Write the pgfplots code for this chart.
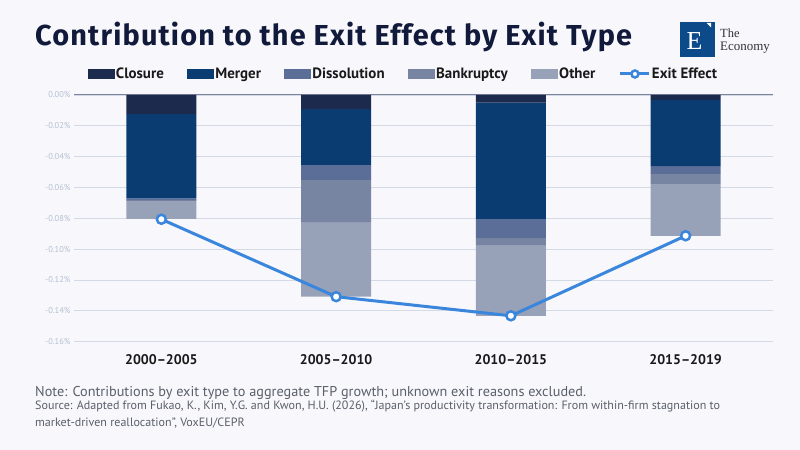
\documentclass[border=0pt]{standalone}
\usepackage{pgfplots}
\pgfplotsset{compat=1.18}
\usepackage{fontspec}
\setmainfont{PT Sans}
\newfontfamily\titlefont[LetterSpace=4]{Fira Sans}
\newfontfamily\seriffont{Liberation Serif}
\definecolor{bg}{RGB}{248,248,252}
\definecolor{cClosure}{HTML}{1C2A4E}
\definecolor{cMerger}{HTML}{0B3C71}
\definecolor{cDiss}{HTML}{5B6E98}
\definecolor{cBank}{HTML}{7885A2}
\definecolor{cOther}{HTML}{97A1B8}
\definecolor{cLine}{HTML}{3A86DC}
\definecolor{cGrid}{HTML}{D3DAE5}
\definecolor{cTick}{HTML}{B4BFD2}
\definecolor{cZero}{HTML}{7C8299}
\definecolor{cTitle}{HTML}{111A3A}
\definecolor{cLogo}{HTML}{0D4A8A}
\definecolor{cNote}{HTML}{5A5F6A}
\begin{document}
\begin{tikzpicture}
\fill[bg] (0bp,0bp) rectangle (800bp,450bp);
% title
\node[anchor=base west,inner sep=0,text=cTitle] at (35bp,404.3bp) {\titlefont\bfseries\fontsize{29}{32}\selectfont Contribution to the Exit Effect by Exit Type};
% logo
\fill[cLogo] (680bp,392.7bp) rectangle (715bp,428bp);
\fill[white] (706.5bp,427bp) -- (711bp,427bp) -- (711bp,422.5bp) -- cycle;
\node[text=white,inner sep=0,anchor=base] at (694.5bp,400.3bp) {\seriffont\fontsize{26}{26}\selectfont E};
\node[anchor=base west,inner sep=0,text=black!80] at (720bp,412bp) {\seriffont\fontsize{12.5}{12.5}\selectfont The};
\node[anchor=base west,inner sep=0,text=black!80] at (720bp,399.7bp) {\seriffont\fontsize{13}{13}\selectfont Economy};

\begin{axis}[
  at={(74bp,108.3bp)}, anchor=south west, scale only axis,
  width=699bp, height=246.7bp,
  xmin=-0.5, xmax=3.5, ymin=-0.16, ymax=0,
  ybar stacked, bar width=70bp,
  axis line style={draw=none},
  major tick style={draw=none},
  ymajorgrids, grid style={cGrid, line width=0.8bp},
  ytick={-0.16,-0.14,-0.12,-0.10,-0.08,-0.06,-0.04,-0.02,0},
  yticklabel={\pgfmathprintnumber[fixed,fixed zerofill,precision=2]{\tick}\%},
  /pgf/number format/assume math mode=true,
  yticklabel style={font=\fontsize{8.5}{9}\selectfont, text=cTick},
  xtick={0,1,2,3},
  xticklabels={2000–2005,2005–2010,2010–2015,2015–2019},
  xticklabel style={font=\bfseries\fontsize{14}{16}\selectfont, text=black!90, anchor=base, yshift=-22.6bp},
  legend columns=-1,
  legend style={at={(axis description cs:0.4707,1)}, anchor=center, yshift=21bp,
     draw=none, fill=none, font=\bfseries\fontsize{15}{17}\selectfont, text=black!90,
     nodes={inner xsep=1bp},
     /tikz/every odd column/.append style={column sep=0bp},
     /tikz/every even column/.append style={column sep=22.5bp}},
  legend image code/.code={\fill[#1] (0bp,-4.75bp) rectangle (27bp,4.75bp);},
]
\addplot[fill=cClosure, draw=none] coordinates {(0,-0.0123) (1,-0.0091) (2,-0.0050) (3,-0.0032)};
\addplot[fill=cMerger, draw=none] coordinates {(0,-0.0547) (1,-0.0363) (2,-0.0754) (3,-0.0429)};
\addplot[fill=cDiss, draw=none] coordinates {(0,-0.0012) (1,-0.0097) (2,-0.0124) (3,-0.0051)};
\addplot[fill=cBank, draw=none] coordinates {(0,-0.0005) (1,-0.0273) (2,-0.0045) (3,-0.0065)};
\addplot[fill=cOther, draw=none] coordinates {(0,-0.0117) (1,-0.0484) (2,-0.0459) (3,-0.0336)};
\legend{Closure,Merger,Dissolution,Bankruptcy,Other,Exit Effect}
\addlegendimage{legend image code/.code={
  \draw[cLine,line width=3bp] (0bp,0bp) -- (29bp,0bp);
  \draw[cLine,line width=2.5bp,fill=white] (14.5bp,0bp) circle (3.5bp);}}
\draw[cZero, line width=1bp] (axis cs:-0.5,0) -- (axis cs:3.5,0);
\end{axis}

\begin{axis}[
  at={(74bp,108.3bp)}, anchor=south west, scale only axis,
  width=699bp, height=246.7bp,
  xmin=-0.5, xmax=3.5, ymin=-0.16, ymax=0,
  hide axis, clip=false,
]
\addplot[cLine, line width=3bp, mark=*, mark size=4.5bp,
  mark options={fill=white, draw=cLine, line width=2.5bp}]
  coordinates {(0,-0.0806) (1,-0.1308) (2,-0.1432) (3,-0.0913)};
\end{axis}

% footer
\node[anchor=base west,inner sep=0,text=cNote] at (35bp,53.3bp) {\fontsize{14.3}{16}\selectfont Note: Contributions by exit type to aggregate TFP growth; unknown exit reasons excluded.};
\node[anchor=base west,inner sep=0,text=cNote] at (35bp,40bp) {\fontsize{12.1}{14}\selectfont Source: Adapted from Fukao, K., Kim, Y.G. and Kwon, H.U. (2026), “Japan’s productivity transformation: From within-firm stagnation to};
\node[anchor=base west,inner sep=0,text=cNote] at (35bp,24bp) {\fontsize{12.1}{14}\selectfont market-driven reallocation”, VoxEU/CEPR};
\end{tikzpicture}
\end{document}
